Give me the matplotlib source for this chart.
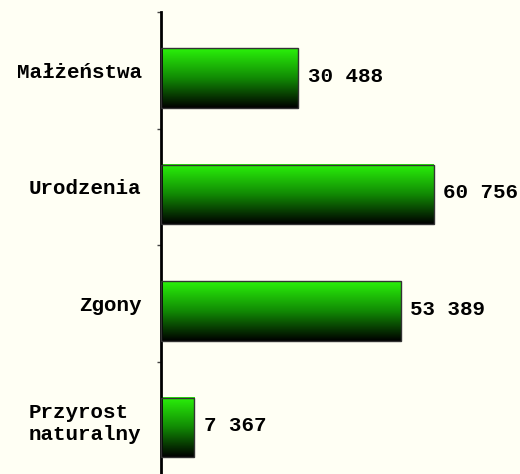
import matplotlib.pyplot as plt
import numpy as np
from matplotlib.colors import LinearSegmentedColormap

categories = ["Małżeństwa", "Urodzenia", "Zgony", "Przyrost\nnaturalny"]
values = [30488, 60756, 53389, 7367]
value_labels = ["30 488", "60 756", "53 389", "7 367"]

bg = "#fffff4"
font = "Liberation Mono"
green_black = LinearSegmentedColormap.from_list("gb", ["#2af20a", "#118a04", "#000000"])

fig = plt.figure(figsize=(5.2, 4.74), dpi=100, facecolor=bg)
ax = fig.add_axes([161 / 520, -4 / 474, 359 / 520, 466 / 474])
ax.set_facecolor(bg)

pos = np.arange(len(categories))
bar_off = 0.065
bar_h = 0.51
grad = np.linspace(0, 1, 256).reshape(-1, 1)

for i, v in enumerate(values):
    y = pos[i] + bar_off
    ax.imshow(grad, extent=[0, v, y + bar_h / 2, y - bar_h / 2], origin="upper",
              aspect="auto", cmap=green_black, zorder=2)
    ax.barh(y, v, height=bar_h, facecolor="none", edgecolor="#333333",
            linewidth=1, zorder=3)
    ax.annotate(value_labels[i], (v, pos[i] + 0.05), xytext=(7, 0),
                textcoords="offset points", va="center", ha="left",
                fontfamily=font, fontweight="bold", fontsize=15, color="black")

ax.set_xlim(0, 80000)
ax.set_ylim(len(categories) - 0.5, -0.5)

for s in ["top", "right", "bottom"]:
    ax.spines[s].set_visible(False)
ax.spines["left"].set_linewidth(2)
ax.spines["left"].set_color("black")
ax.set_xticks([])

ax.set_yticks(pos)
ax.set_yticklabels(categories, fontfamily=font, fontweight="bold", fontsize=15)
for lab in ax.get_yticklabels():
    lab.set_multialignment("left")
ax.set_yticks(np.arange(len(categories) + 1) - 0.5, minor=True)
ax.tick_params(axis="y", which="major", length=0, pad=14)
ax.tick_params(axis="y", which="minor", length=3, width=1, color="#444444")

fig.savefig("out.png", dpi=100, facecolor=bg)
